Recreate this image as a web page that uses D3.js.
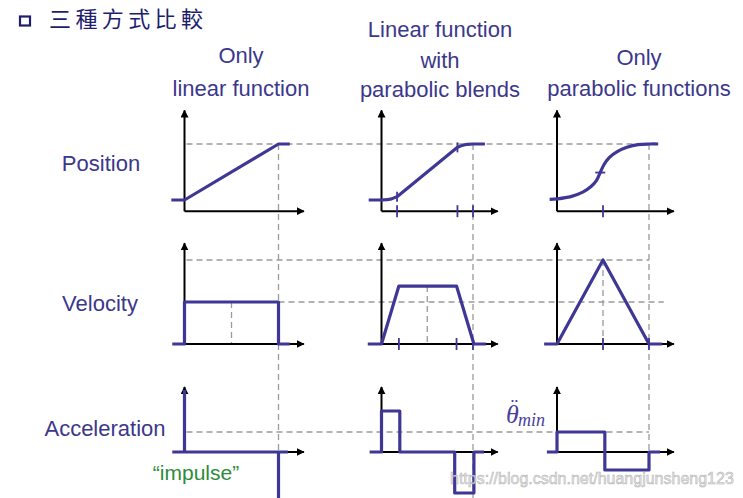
<!DOCTYPE html>
<html>
<head>
<meta charset="utf-8">
<script src="https://cdn.jsdelivr.net/npm/d3@7"></script>
<style>
  html, body { margin: 0; padding: 0; background: #fff; }
  svg { display: block; }
</style>
</head>
<body>
<svg id="chart" width="743" height="498"></svg>
<script>
// texts
var title = "三種方式比較";
var headerLines = [["Only", "linear function"], ["Linear function", "with", "parabolic blends"], ["Only", "parabolic functions"]];
var rowLabels = ["Position", "Velocity", "Acceleration"];
var impulseLabel = "\u201Cimpulse\u201D";
var watermark = "https://blog.csdn.net/huangjunsheng123";

// position (t, normalized position)
var posLinear = [[-0.14, 0], [0, 0], [1, 1], [1.12, 1]];
var posBlend = [[-0.14, 0], [0, 0], [0.06, 0.005], [0.11, 0.02], [0.17, 0.06], [0.83, 0.94], [0.89, 0.98], [0.94, 0.995], [1, 1], [1.13, 1]];
var posParabolic = [[-0.08, 0.01], [0, 0.02], [0.15, 0.06], [0.28, 0.14], [0.37, 0.24], [0.43, 0.35], [0.47, 0.49], [0.51, 0.63], [0.57, 0.76], [0.65, 0.86], [0.76, 0.94], [0.88, 0.99], [1.01, 1], [1.1, 1]];

// velocity (1 = peak of the triangle)
var velLinear = [[-0.13, 0], [0, 0], [0, 0.5], [1, 0.5], [1, 0], [1.12, 0]];
var velBlend = [[-0.15, 0], [0, 0], [0.19, 0.69], [0.82, 0.69], [1.01, 0], [1.14, 0]];
var velParabolic = [[-0.14, 0], [0, 0], [0.5, 1], [1, 0], [1.14, 0]];

// acceleration (1 = theta-dot-dot min)
var accLinear = [[-0.13, 0], [1.1, 0]];
var accImpulses = [[0, 3.1], [1, -2.8]];
var accBlend = [[-0.13, 0], [0, 0], [0, 2.05], [0.2, 2.05], [0.2, 0], [0.8, 0], [0.8, -2.05], [1.01, -2.05], [1.01, 0], [1.12, 0]];
var accParabolic = [[-0.11, 0], [0, 0], [0, 1], [0.52, 1], [0.52, -0.9], [1, -0.9], [1, 0], [1.12, 0]];

// marks on the time axis and on the curves
var tickBlendPos = [0.17, 0.83, 1];
var tickBlendVel = [0.19, 0.82, 1];
var tickParaPos = [0.5];
var tickParaVel = [0.5, 1];
var curveMarksBlend = [[0.17, 0.06], [0.83, 0.94]];
var curveMarksPara = [[0.47, 0.49]];

var purple = "#3f3795";
var textColor = "#3b388c";
var dashColor = "#9a9a9a";

var svg = d3.select("#chart");

var defs = svg.append("defs");
defs.append("marker")
    .attr("id", "arrow")
    .attr("viewBox", "0 0 10 10")
    .attr("refX", 9).attr("refY", 5)
    .attr("markerWidth", 4).attr("markerHeight", 4)
    .attr("orient", "auto")
  .append("path")
    .attr("d", "M0,0 L10,5 L0,10 Z")
    .attr("fill", "#000");

// one time scale per column
var colLeft = [184.5, 381.5, 557];
var colSpan = [94, 91.5, 92];
var xs = colLeft.map(function(x0, i) {
    return d3.scaleLinear().domain([0, 1]).range([x0, x0 + colSpan[i]]);
});
var posY = d3.scaleLinear().domain([0, 1]).range([200, 144]);
var velY = d3.scaleLinear().domain([0, 1]).range([344, 260]);
var accY = d3.scaleLinear().domain([0, 1]).range([452, 432]);

var rows = [
    {y: posY, base: -0.2, top: 1.6},
    {y: velY, base: 0, top: 1.2},
    {y: accY, base: 0, top: 3.25}
];

// dashed guides
var guides = svg.append("g")
    .attr("stroke", dashColor)
    .attr("stroke-width", 1.3)
    .attr("stroke-dasharray", "6,4")
    .attr("fill", "none");

function hGuide(y, xa, xb) {
    guides.append("line").attr("x1", xa).attr("x2", xb).attr("y1", y).attr("y2", y);
}
function vGuide(x, ya, yb) {
    guides.append("line").attr("x1", x).attr("x2", x).attr("y1", ya).attr("y2", yb);
}
hGuide(posY(1), xs[0](0) + 2, xs[2](1));
hGuide(velY(1), xs[0](0) + 2, xs[2](1));
hGuide(velY(0.5), xs[0](1), xs[2](1.16));
hGuide(accY(1), xs[0](0) + 2, xs[2](1));
vGuide(xs[0](1), posY(1), 498);
vGuide(xs[1](1), posY(1), 498);
vGuide(xs[2](1), posY(1), accY(-0.9));
vGuide(xs[0](0.5), velY(0.5), velY(0));
vGuide(xs[1](0.5), velY(0.69), velY(0));
vGuide(xs[2](0.5), velY(1), velY(0));

// axes
var axes = svg.append("g").attr("stroke", "#000").attr("stroke-width", 2);
rows.forEach(function(r) {
    xs.forEach(function(x) {
        axes.append("line")
            .attr("x1", x(0)).attr("x2", x(1.27))
            .attr("y1", r.y(r.base)).attr("y2", r.y(r.base))
            .attr("marker-end", "url(#arrow)");
        axes.append("line")
            .attr("x1", x(0)).attr("x2", x(0))
            .attr("y1", r.y(r.base)).attr("y2", r.y(r.top))
            .attr("marker-end", "url(#arrow)");
    });
});

// curves
function draw(data, x, y, curve) {
    var line = d3.line()
        .x(function(d) { return x(d[0]); })
        .y(function(d) { return y(d[1]); })
        .curve(curve || d3.curveLinear);
    svg.append("path")
        .datum(data)
        .attr("d", line)
        .attr("fill", "none")
        .attr("stroke", purple)
        .attr("stroke-width", 3.2)
        .attr("stroke-linejoin", "round");
}

draw(posLinear, xs[0], posY);
draw(posBlend, xs[1], posY, d3.curveLinear);
draw(posParabolic, xs[2], posY, d3.curveCatmullRom.alpha(0.5));
draw(velLinear, xs[0], velY);
draw(velBlend, xs[1], velY);
draw(velParabolic, xs[2], velY);
draw(accLinear, xs[0], accY);
accImpulses.forEach(function(d) {
    draw([[d[0], 0], d], xs[0], accY);
});
draw(accBlend, xs[1], accY);
draw(accParabolic, xs[2], accY);

// small tick marks
var marks = svg.append("g").attr("stroke", purple).attr("stroke-width", 1.8);
function axisTicks(ticks, x, y) {
    ticks.forEach(function(t) {
        marks.append("line")
            .attr("x1", x(t)).attr("x2", x(t))
            .attr("y1", y - 6).attr("y2", y + 6);
    });
}
axisTicks(tickBlendPos, xs[1], posY(-0.2));
axisTicks(tickParaPos, xs[2], posY(-0.2));
axisTicks(tickBlendVel, xs[1], velY(0));
axisTicks(tickParaVel, xs[2], velY(0));
curveMarksBlend.forEach(function(d) {
    marks.append("line")
        .attr("x1", xs[1](d[0])).attr("x2", xs[1](d[0]))
        .attr("y1", posY(d[1]) - 5).attr("y2", posY(d[1]) + 5);
});
curveMarksPara.forEach(function(d) {
    marks.append("line")
        .attr("x1", xs[2](d[0]) - 5).attr("x2", xs[2](d[0]) + 5)
        .attr("y1", posY(d[1])).attr("y2", posY(d[1]));
});

// texts
var font = "'Liberation Sans', Arial, sans-serif";

svg.append("rect")
    .attr("x", 20).attr("y", 16.5).attr("width", 10).attr("height", 9)
    .attr("fill", "none").attr("stroke", "#1e1e6e").attr("stroke-width", 2.2);
svg.append("text")
    .attr("x", 49).attr("y", 27)
    .attr("font-family", "'Noto Sans CJK TC', 'Noto Sans CJK SC', sans-serif")
    .attr("font-size", 22)
    .attr("letter-spacing", 4.4)
    .attr("fill", "#1e1e6e")
    .text(title);

var headerCenters = [241, 440, 639];
var headerBaselines = [[63, 96], [36.5, 68, 97], [65, 96]];
headerLines.forEach(function(lines, i) {
    lines.forEach(function(s, j) {
        svg.append("text")
            .attr("x", headerCenters[i]).attr("y", headerBaselines[i][j])
            .attr("text-anchor", "middle")
            .attr("font-family", font).attr("font-size", 22)
            .attr("fill", textColor)
            .text(s);
    });
});

var labelCenters = [101, 100, 105];
var labelBaselines = [171, 311, 436];
rowLabels.forEach(function(s, i) {
    svg.append("text")
        .attr("x", labelCenters[i]).attr("y", labelBaselines[i])
        .attr("text-anchor", "middle")
        .attr("font-family", font).attr("font-size", 22)
        .attr("fill", textColor)
        .text(s);
});

svg.append("text")
    .attr("x", 196).attr("y", 480)
    .attr("text-anchor", "middle")
    .attr("font-family", font).attr("font-size", 21)
    .attr("fill", "#2e8b3a")
    .text(impulseLabel);

// theta double-dot min, one text with the dots as a shifted tspan
var serif = "'Liberation Serif', 'DejaVu Serif', serif";
var theta = svg.append("text")
    .attr("x", 506).attr("y", 423)
    .attr("font-family", serif)
    .attr("font-style", "italic")
    .attr("font-size", 26)
    .attr("fill", "#4a3f9a");
theta.append("tspan").text("\u03B8");
theta.append("tspan").attr("dx", -8).attr("dy", -10)
    .attr("font-style", "normal").attr("font-size", 22).text("\u00A8");
theta.append("tspan").attr("dx", 0).attr("dy", 13)
    .attr("font-size", 18).text("min");

svg.append("text")
    .attr("x", 450).attr("y", 484)
    .attr("font-family", font).attr("font-size", 16)
    .attr("fill", "#e6e6e6")
    .attr("stroke", "#a8a8a8")
    .attr("stroke-width", 0.5)
    .attr("opacity", 0.9)
    .text(watermark);
</script>
</body>
</html>
